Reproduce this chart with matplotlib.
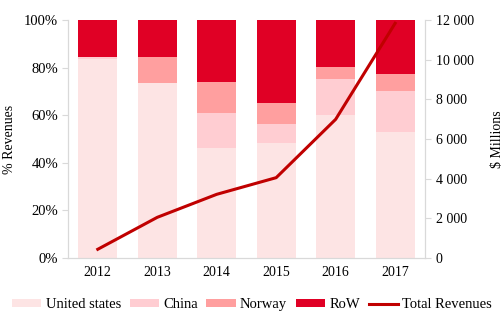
import matplotlib
matplotlib.use("Agg")
import matplotlib.pyplot as plt
import numpy as np
from matplotlib.ticker import FuncFormatter

plt.rcParams['font.family'] = ['Liberation Serif', 'DejaVu Serif']

years = ['2012', '2013', '2014', '2015', '2016', '2017']
us = [83.5, 73.7, 46.1, 48.5, 60.2, 52.9]
china = [1.0, 0.0, 15.0, 7.8, 15.0, 17.3]
norway = [0.0, 10.6, 12.7, 8.7, 4.9, 7.1]
row = [15.5, 15.7, 26.2, 35.0, 19.9, 22.7]
total_rev = [440, 2050, 3210, 4050, 6990, 11830]

colors = ['#FDE4E4', '#FFCDD2', '#FF9F9F', '#E00025']
line_color = '#C00000'

fig = plt.figure(figsize=(5.04, 3.16), dpi=100)
ax = fig.add_axes([0.135, 0.1835, 0.708, 0.7535])
x = np.arange(len(years))
w = 0.66
bottom = np.zeros(len(years))
labels = ['United states', 'China', 'Norway', 'RoW']
for vals, c, lab in zip([us, china, norway, row], colors, labels):
    ax.bar(x, vals, w, bottom=bottom, color=c, label=lab, zorder=2)
    bottom += np.array(vals)

ax.set_ylim(0, 100)
ax.set_xlim(-0.5, 5.5)
ax.set_yticks(np.arange(0, 101, 20))
ax.yaxis.set_major_formatter(FuncFormatter(lambda v, p: f"{int(v)}%"))
ax.set_xticks(x)
ax.set_xticklabels(years)
ax.set_ylabel('% Revenues', fontsize=10, labelpad=6)
ax.spines['top'].set_visible(False)
for s in ['left', 'bottom', 'right']:
    ax.spines[s].set_color('#D9D9D9')
ax.tick_params(axis='x', length=0, labelsize=10, pad=6)
ax.tick_params(axis='y', length=4, color='#D9D9D9', labelsize=10.5, pad=3)

ax2 = ax.twinx()
ax2.plot(x, total_rev, color=line_color, lw=2.2, label='Total Revenues', zorder=3)
ax2.set_ylim(0, 12000)
ax2.set_yticks(np.arange(0, 12001, 2000))
ax2.yaxis.set_major_formatter(FuncFormatter(lambda v, p: f"{int(v):,}".replace(',', ' ')))
ax2.set_ylabel('$ Millions', fontsize=10, labelpad=12)
ax2.spines['top'].set_visible(False)
for s in ['left', 'bottom', 'right']:
    ax2.spines[s].set_color('#D9D9D9')
ax2.tick_params(axis='y', length=4, color='#D9D9D9', labelsize=10, pad=4)

h1, l1 = ax.get_legend_handles_labels()
h2, l2 = ax2.get_legend_handles_labels()
fig.legend(h1 + h2, l1 + l2, loc='center', bbox_to_anchor=(0.5, 0.035), ncol=5,
           frameon=False, fontsize=10.5, handlelength=2.0, handleheight=0.5,
           handletextpad=0.3, columnspacing=0.6)

fig.savefig('out.png', dpi=100)
